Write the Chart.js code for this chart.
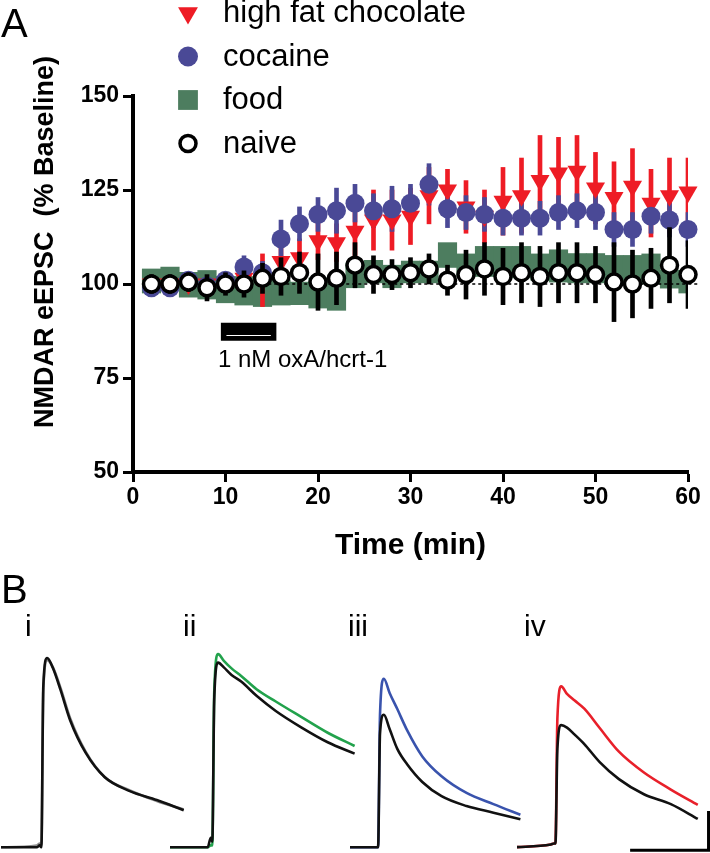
<!DOCTYPE html>
<html>
<head>
<meta charset="utf-8">
<script src="https://cdn.jsdelivr.net/npm/chart.js@4.4.1/dist/chart.umd.min.js"></script>
<style>
  html, body { margin: 0; padding: 0; background: #fff; }
  body { width: 710px; height: 853px; position: relative; overflow: hidden; font-family: "Liberation Sans", Arial, sans-serif; }
  canvas { position: absolute; }
  .lbl { position: absolute; color: #000; line-height: 1; white-space: nowrap; }
</style>
</head>
<body>
<canvas id="chartA" width="710" height="590" style="left:0;top:0"></canvas>
<canvas id="traceI" width="188" height="214" style="left:1px;top:639px"></canvas>
<canvas id="traceII" width="188" height="214" style="left:170px;top:639px"></canvas>
<canvas id="traceIII" width="180" height="214" style="left:350px;top:639px"></canvas>
<canvas id="traceIV" width="193" height="214" style="left:517px;top:639px"></canvas>

<div class="lbl" style="left:1px;top:3px;font-size:40px">A</div>
<div class="lbl" style="left:1px;top:569px;font-size:40px">B</div>
<div class="lbl" style="left:25px;top:611px;font-size:30px">i</div>
<div class="lbl" style="left:183px;top:611px;font-size:30px">ii</div>
<div class="lbl" style="left:348px;top:611px;font-size:30px">iii</div>
<div class="lbl" style="left:524px;top:611px;font-size:30px">iv</div>

<script>
// ---- Panel A data (time in min, % baseline) ----
const timePoints = [2, 4, 6, 8, 10, 12, 14, 16, 18, 20, 22, 24, 26, 28, 30,
                    32, 34, 36, 38, 40, 42, 44, 46, 48, 50, 52, 54, 56, 58, 60];

const hfcMean = [100, 100, 100, 100, 100, 101.5, 101, 106, 107, 111.5, 111, 114, 117, 117, 118,
                 123.5, 125, 120.5, 118, 122, 123.5, 127.5, 129.5, 130, 125.5, 123, 126, 121.5, 123.5, 124.5];
const hfcSem = [1.5, 1.5, 1.5, 1.5, 1.5, 2, 7, 4, 5, 5, 5, 7, 8, 8, 7.5,
                7.5, 5.5, 7, 7, 9, 10, 12, 9.5, 9.5, 9.5, 9.5, 10, 9, 10, 9];

const cocMean = [99, 99, 101, 99.5, 101, 104.5, 103, 112, 116, 118.5, 119.5, 121.5, 119.5, 120, 121.5,
                 126.5, 120, 119, 118.5, 117.5, 117.5, 117.5, 119, 119.5, 119, 114.5, 114.5, 118, 117, 114.5];
const cocSem = [2, 2, 2, 2, 2, 3, 3, 5, 4.5, 4.5, 6, 5, 4.5, 6, 5,
                5.5, 5, 4.5, 4.5, 4.5, 4.5, 4.5, 4.5, 4.5, 4.5, 4.5, 4.5, 4.5, 4.5, 4.5];

const foodMean = [100.8, 101.5, 99.8, 99.8, 98.5, 98.2, 97.5, 97.7, 97.5, 97.6, 97.5, 102.3, 103.3, 102, 103.2,
                  103.2, 107.7, 105, 106, 106, 105.8, 104.5, 104.8, 104.2, 104.2, 103.8, 103.8, 104, 101.3, 100.6];
const foodSem = [3.2, 3, 3.3, 3.8, 3.5, 3.8, 3.5, 3.3, 3, 4, 4.5, 3.3, 3, 3, 2.9,
                 2.9, 3.3, 3, 4, 4, 4.2, 3.5, 4.3, 3.9, 3.9, 3.8, 3.8, 4, 2.4, 3];

const naiveMean = [100, 100, 100.5, 99, 100, 100, 101.5, 102, 103, 100.5, 101.5, 105, 102.5, 102.5, 103,
                   104, 101, 102.5, 104, 102, 103, 102, 103, 103, 102.5, 100.5, 100, 101.5, 105, 102.5];
const naiveSem = [2.5, 2.5, 2.5, 3.5, 3, 3.5, 4, 5, 5.5, 7.5, 7, 6, 5, 4, 4,
                  4, 4, 6.5, 7, 7.5, 8, 8, 8, 8, 7.5, 10.5, 9, 8, 10, 9];

const yTicks = [50, 75, 100, 125, 150];
const xTicks = [0, 10, 20, 30, 40, 50, 60];
const baselineX = [1, 61];
const baselineY = 100;
const drugStart = 9.5, drugEnd = 15.5, drugY = 87.3;
const drugLabel = '1 nM oxA/hcrt-1';

const legendRows = [
  { label: 'high fat chocolate', style: 'triangle', rotation: 180, radius: 11.5, fill: '#ee1c25', stroke: '#ee1c25', bw: 0 },
  { label: 'cocaine', style: 'circle', rotation: 0, radius: 10, fill: '#4a4996', stroke: '#4a4996', bw: 0 },
  { label: 'food', style: 'rect', rotation: 0, radius: 14, fill: '#4d7d5f', stroke: '#4d7d5f', bw: 0 },
  { label: 'naive', style: 'circle', rotation: 0, radius: 8, fill: '#fff', stroke: '#000', bw: 3.5 }
];

// ---- Panel B data (time in ms from onset, amplitude normalised to peak i) ----
const traceTime = [-110, -12, -4, 0, 5, 15, 30, 50, 75, 115, 165, 230, 300, 370];
const iControl = [0, 0.01, 0.02, 0.01, 0.83, 0.99, 0.95, 0.84, 0.68, 0.505, 0.37, 0.3, 0.245, 0.2];
const iAfter   = [0, 0, 0.01, 0, 0.85, 1.0, 0.947, 0.83, 0.67, 0.5, 0.37, 0.297, 0.25, 0.196];
const iiAfter  = [0, 0, 0.01, 0.01, 0.82, 1.02, 0.985, 0.945, 0.905, 0.835, 0.77, 0.69, 0.605, 0.535];
const iiControl = [0, 0, 0.05, 0.03, 0.78, 0.975, 0.95, 0.91, 0.875, 0.8, 0.72, 0.635, 0.555, 0.495];
const iiiAfter = [0, 0, 0, 0, 0.7, 0.89, 0.815, 0.73, 0.62, 0.48, 0.375, 0.287, 0.228, 0.172];
const iiiControl = [0, 0, 0, 0, 0.6, 0.7, 0.625, 0.52, 0.44, 0.345, 0.27, 0.218, 0.183, 0.148];
const ivAfter  = [0, 0.015, 0.02, 0.02, 0.68, 0.85, 0.81, 0.775, 0.732, 0.63, 0.505, 0.395, 0.305, 0.224];
const ivControl = [0, 0.015, 0.02, 0.02, 0.52, 0.645, 0.632, 0.595, 0.545, 0.45, 0.36, 0.28, 0.228, 0.15];
const scaleBarMs = 200, scaleBarAmp = 0.2;

const RED = '#ee1c25', BLUE = '#4a4996', GREEN = '#4d7d5f';

const toPoints = (vals) => timePoints.map((t, i) => ({ x: t, y: vals[i] }));
const toRange = (mean, sem) => timePoints.map((t, i) => ({ x: t, y: [mean[i] - sem[i], mean[i] + sem[i]] }));

const errBar = (mean, sem, color, order) => ({
  type: 'bar', data: toRange(mean, sem), backgroundColor: color,
  grouped: false, barThickness: 4, order: order
});

// legend, rotated y title and drug label
const panelAText = {
  id: 'panelAText',
  afterDraw(chart) {
    const ctx = chart.ctx;
    const xs = chart.scales.x;
    ctx.save();
    legendRows.forEach((row, i) => {
      const cy = 13 + i * 43.5;
      ctx.fillStyle = row.fill;
      ctx.strokeStyle = row.stroke;
      ctx.lineWidth = row.bw;
      Chart.helpers.drawPoint(ctx, { pointStyle: row.style, rotation: row.rotation, radius: row.radius, borderWidth: row.bw }, 188, cy);
      ctx.fillStyle = '#000';
      ctx.font = '31px "Liberation Sans", Arial, sans-serif';
      ctx.textBaseline = 'alphabetic';
      ctx.textAlign = 'left';
      ctx.fillText(row.label, 223, cy + 9);
    });
    // drug label
    ctx.font = '24px "Liberation Sans", Arial, sans-serif';
    ctx.fillText(drugLabel, xs.getPixelForValue(drugStart) - 3, 367);
    // y title
    ctx.translate(46, 242);
    ctx.rotate(-Math.PI / 2);
    ctx.textAlign = 'center';
    ctx.textBaseline = 'middle';
    ctx.font = 'bold 27px "Liberation Sans", Arial, sans-serif';
    ctx.fillText('NMDAR eEPSC  (% Baseline)', 0, 0);
    ctx.restore();
  }
};

new Chart(document.getElementById('chartA'), {
  type: 'scatter',
  data: {
    datasets: [
      { type: 'scatter', data: toPoints(naiveMean), pointStyle: 'circle', pointRadius: 8,
        pointBackgroundColor: '#fff', pointBorderColor: '#000', pointBorderWidth: 3.5, order: 0, clip: false },
      errBar(naiveMean, naiveSem, '#000', 1),
      { type: 'scatter', data: toPoints(cocMean), pointStyle: 'circle', pointRadius: 9.5,
        pointBackgroundColor: BLUE, pointBorderWidth: 0, order: 2, clip: false },
      { type: 'scatter', data: toPoints(hfcMean), pointStyle: 'triangle', rotation: 180, pointRadius: 11,
        pointBackgroundColor: RED, pointBorderWidth: 0, order: 3, clip: false },
      errBar(cocMean, cocSem, BLUE, 4),
      errBar(hfcMean, hfcSem, RED, 5),
      { type: 'line', data: baselineX.map(x => ({ x: x, y: baselineY })), borderColor: '#000',
        borderWidth: 1.5, borderDash: [3, 3], pointRadius: 0, order: 6, clip: false },
      { type: 'bar', data: toRange(foodMean, foodSem), backgroundColor: GREEN, grouped: false,
        barPercentage: 1, categoryPercentage: 1, order: 7 },
      { type: 'line', data: [{ x: drugStart, y: drugY }, { x: drugEnd, y: drugY }], borderColor: '#000',
        borderWidth: 18, borderCapStyle: 'butt', pointRadius: 0, order: 8 },
      { type: 'line', data: [{ x: drugStart + 0.6, y: drugY - 1 }, { x: drugEnd - 0.6, y: drugY - 1 }], borderColor: '#fff',
        borderWidth: 1.2, borderCapStyle: 'butt', pointRadius: 0, order: -1 }
    ]
  },
  options: {
    responsive: false,
    animation: false,
    devicePixelRatio: 1,
    events: [],
    layout: { padding: { left: 0, right: 22, top: 96, bottom: 0 } },
    plugins: { legend: { display: false }, tooltip: { enabled: false } },
    scales: {
      x: {
        type: 'linear', min: 0, max: 60, offset: false,
        afterFit: (s) => { s.height = 118; },
        afterBuildTicks: (s) => { s.ticks = xTicks.map(v => ({ value: v })); },
        border: { display: true, color: '#000', width: 4 },
        grid: { display: true, drawOnChartArea: false, drawTicks: true, tickLength: 10, tickWidth: 3, tickColor: '#000', offset: false },
        ticks: { color: '#000', padding: 2, maxRotation: 0, font: { family: '"Liberation Sans", Arial, sans-serif', size: 23, weight: 'bold' } },
        title: { display: true, text: 'Time (min)', color: '#000', padding: { top: 0, bottom: 26 },
                 font: { family: '"Liberation Sans", Arial, sans-serif', size: 30, weight: 'bold' } }
      },
      y: {
        type: 'linear', min: 50, max: 150,
        afterFit: (s) => { s.width = 133; },
        afterBuildTicks: (s) => { s.ticks = yTicks.map(v => ({ value: v })); },
        border: { display: true, color: '#000', width: 4 },
        grid: { display: true, drawOnChartArea: false, drawTicks: true, tickLength: 10, tickWidth: 3, tickColor: '#000' },
        ticks: { color: '#000', padding: 4, font: { family: '"Liberation Sans", Arial, sans-serif', size: 23, weight: 'bold' } }
      }
    }
  },
  plugins: [panelAText]
});

// ---- Panel B ----
const msPerPx = 2.6;
const trace = (vals, color) => ({
  data: traceTime.map((t, i) => ({ x: t, y: vals[i] })),
  borderColor: color, borderWidth: 2.6, pointRadius: 0, cubicInterpolationMode: 'monotone'
});

function traceChart(id, xMin, datasets) {
  const el = document.getElementById(id);
  new Chart(el, {
    type: 'line',
    data: { datasets: datasets },
    options: {
      responsive: false, animation: false, devicePixelRatio: 1, events: [],
      layout: { padding: 0 },
      plugins: { legend: { display: false }, tooltip: { enabled: false } },
      scales: {
        x: { type: 'linear', display: false, min: xMin, max: xMin + el.width * msPerPx },
        y: { display: false, min: -0.03, max: 1.1 }
      }
    }
  });
}

const sbEnd = 398, sbY = -0.016;

traceChart('traceI', -105, [trace(iAfter, '#111'), trace(iControl, '#8a8a8a')]);
traceChart('traceII', -110, [trace(iiControl, '#111'), trace(iiAfter, '#22a24c')]);
traceChart('traceIII', -73, [trace(iiiControl, '#111'), trace(iiiAfter, '#3953ad')]);
traceChart('traceIV', -100, [
  trace(ivControl, '#111'), trace(ivAfter, '#e8202a'),
  { data: [{ x: sbEnd - scaleBarMs, y: sbY }, { x: sbEnd, y: sbY }, { x: sbEnd, y: sbY + scaleBarAmp }],
    borderColor: '#000', borderWidth: 3, pointRadius: 0, tension: 0, borderCapStyle: 'square' }
]);
</script>
</body>
</html>
